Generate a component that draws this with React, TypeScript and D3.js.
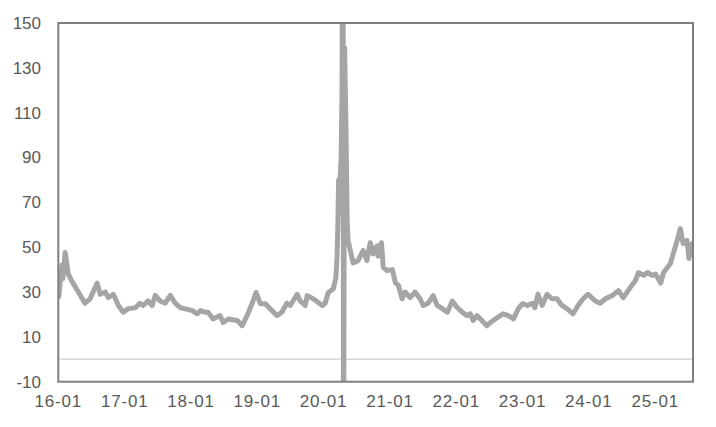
import React from "react";
import * as d3 from "d3";

const dates: string[] = [
  "2016-01-04","2016-01-12","2016-01-22","2016-01-26","2016-02-08","2016-02-25","2016-03-22","2016-04-13","2016-05-27","2016-06-24",
  "2016-08-02","2016-08-19","2016-09-16","2016-10-02","2016-10-30","2016-11-27","2016-12-24","2017-01-21","2017-02-28","2017-03-25",
  "2017-04-12","2017-05-09","2017-06-01","2017-06-18","2017-07-15","2017-08-12","2017-09-09","2017-10-06","2017-11-03","2017-12-01",
  "2018-01-08","2018-02-05","2018-02-22","2018-03-19","2018-04-05","2018-05-02","2018-06-10","2018-06-27","2018-07-25","2018-09-13",
  "2018-10-10","2018-11-06","2018-12-03","2018-12-25","2019-01-18","2019-02-15","2019-03-12","2019-04-19","2019-05-16","2019-06-13",
  "2019-07-01","2019-08-09","2019-08-25","2019-09-22","2019-10-03","2019-11-05","2019-12-25","2020-01-10","2020-01-27","2020-02-24",
  "2020-03-09","2020-03-15","2020-03-20","2020-03-24","2020-03-27","2020-03-31","2020-04-07","2020-04-12","2020-04-17","2020-04-20","2020-04-26",
  "2020-05-04","2020-05-10","2020-05-15","2020-06-12","2020-07-09","2020-08-06","2020-08-27","2020-09-14","2020-10-01","2020-10-22",
  "2020-10-27","2020-11-15","2020-11-25","2020-12-16","2021-01-14","2021-01-31","2021-02-16","2021-03-09","2021-03-25","2021-04-22",
  "2021-05-19","2021-06-16","2021-07-03","2021-07-30","2021-08-27","2021-09-18","2021-10-16","2021-11-13","2021-12-10","2022-01-07",
  "2022-02-03","2022-03-02","2022-03-19","2022-04-04","2022-04-25","2022-05-22","2022-06-19","2022-07-01","2022-08-15","2022-09-16",
  "2022-10-15","2022-11-12","2022-12-09","2023-01-01","2023-01-28","2023-02-24","2023-03-10","2023-03-27","2023-04-19","2023-05-16",
  "2023-06-12","2023-07-10","2023-08-06","2023-09-03","2023-10-06","2023-11-03","2023-12-01","2023-12-28","2024-02-06","2024-03-03",
  "2024-04-01","2024-05-09","2024-06-12","2024-07-09","2024-08-16","2024-09-13","2024-10-01","2024-10-28","2024-11-19","2024-12-16",
  "2025-01-03","2025-01-31","2025-02-16","2025-03-25","2025-04-10","2025-05-02","2025-05-19","2025-06-04","2025-06-25","2025-07-06",
  "2025-07-24",
];

const values: number[] = [
  28, 35, 42, 36, 47.6, 38, 34, 31, 25, 27,
  34, 29, 30, 27.5, 29, 24, 21, 22.6, 23, 25,
  24, 26, 24, 28.5, 26, 25, 28.5, 25, 23, 22.5,
  21.7, 20.3, 21.7, 21, 21, 18, 19.5, 16.4, 18, 17.3,
  15, 19.5, 24.8, 29.8, 24.8, 24.8, 22.6, 19.5, 21, 25,
  24, 29, 26, 24, 28.4, 27, 24, 25, 29.8, 31.5,
  36.5, 45, 60, 80, 65, 78, 90, 120, 300, -60, 139,
  100, 62, 53, 43, 44, 48.5, 44, 52, 47, 50.6,
  46, 52, 41, 39.6, 40, 34, 33, 27, 30, 27.5,
  30, 27, 24, 25, 28.4, 24, 22.6, 21, 26, 23,
  21, 19.5, 20.3, 17.3, 19.5, 17.3, 15, 16, 18.6, 20.3,
  19.5, 18, 22.6, 24.8, 24, 25, 23, 29, 24, 29,
  27, 27, 24, 22.6, 20.3, 24, 27, 29, 26, 25,
  27, 28.4, 30.6, 27.5, 32, 35, 38.7, 37.4, 38.7, 37.4,
  38, 34, 38.7, 42.6, 47, 53, 58.3, 51.6, 53, 45,
  51.6,
];

const yTicks: number[] = [-10, 10, 30, 50, 70, 90, 110, 130, 150];
const xTickYears: number[] = [2016, 2017, 2018, 2019, 2020, 2021, 2022, 2023, 2024, 2025];
const xDomain: string[] = ["2016-01-01", "2025-07-28"];

export default function App() {
  const W = 716, H = 427;
  const left = 58.3, right = 693, top = 23, bottom = 381.7;
  const parse = d3.timeParse("%Y-%m-%d");
  const x = d3.scaleTime().domain(xDomain.map((d) => parse(d) as Date)).range([left, right]);
  const y = d3.scaleLinear().domain([-10, 150]).range([bottom, top]);
  const data = dates.map((d, i) => ({ date: parse(d) as Date, value: values[i] }));
  const line = d3.line<{ date: Date; value: number }>().x((d) => x(d.date)).y((d) => y(d.value)).curve(d3.curveLinear);
  const font = "'Liberation Sans', Arial, sans-serif";
  const fmt = d3.timeFormat("%y-%m");
  return (
    <svg width={W} height={H} style={{ position: "absolute", left: 0, top: 0, background: "#fff" }}>
      <defs>
        <clipPath id="plot">
          <rect x={left} y={top} width={right - left} height={bottom - top} />
        </clipPath>
      </defs>
      <line x1={left} x2={right} y1={y(0)} y2={y(0)} stroke="#d9d9d9" strokeWidth={1.5} />
      <path d={line(data) || ""} fill="none" stroke="#a5a5a5" strokeWidth={5} strokeLinejoin="round" strokeLinecap="round" clipPath="url(#plot)" />
      <rect x={left} y={top} width={right - left} height={bottom - top} fill="none" stroke="#7f7f7f" strokeWidth={2} />
      {yTicks.map((t) => (
        <text key={t} x={41} y={y(t)} dy="0.35em" textAnchor="end" fontFamily={font} fontSize={17} fill="#595959">
          {t}
        </text>
      ))}
      {xTickYears.map((yr) => {
        const d = new Date(yr, 0, 1);
        return (
          <text key={yr} x={x(d)} y={407} textAnchor="middle" fontFamily={font} fontSize={17} letterSpacing={0.8} fill="#595959">
            {fmt(d)}
          </text>
        );
      })}
    </svg>
  );
}
